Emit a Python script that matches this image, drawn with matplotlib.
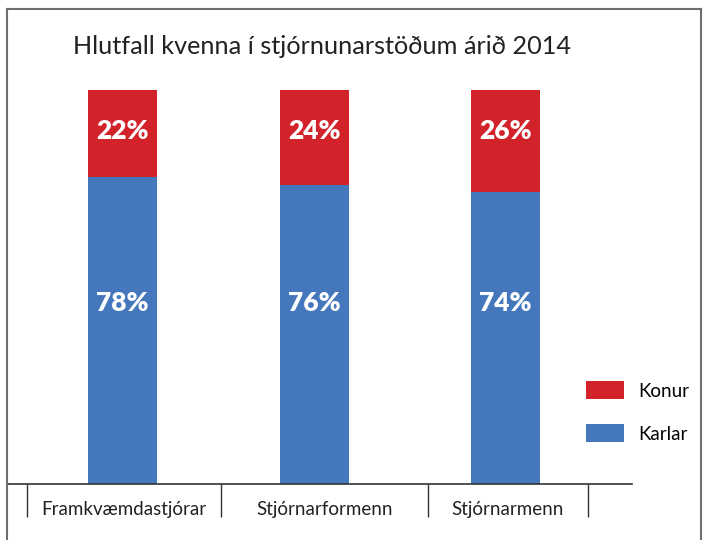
import numpy as np
import matplotlib
matplotlib.use('Agg')
import matplotlib.pyplot as plt
from matplotlib.lines import Line2D

plt.rcParams['font.family'] = ['Lato', 'DejaVu Sans']

categories = ['Framkvæmdastjórar', 'Stjórnarformenn', 'Stjórnarmenn']
karlar = [78, 76, 74]
konur = [22, 24, 26]
title = 'Hlutfall kvenna í stjórnunarstöðum árið 2014'

red = '#d2232b'
blue = '#4577bd'

fig = plt.figure(figsize=(7.11, 5.40), dpi=100)
W, H = 711, 540
ax = fig.add_axes([7 / W, 1 - 484 / H, (632 - 7) / W, (484 - 90) / H])

x = np.arange(len(categories))
ax.bar(x, karlar, width=0.36, color=blue, label='Karlar')
ax.bar(x, konur, bottom=karlar, width=0.36, color=red, label='Konur')

for i in range(len(categories)):
    ax.text(x[i], 46, f'{karlar[i]}%', color='white', fontsize=19,
            fontweight='heavy', ha='center', va='center')
    ax.text(x[i], 89.5, f'{konur[i]}%', color='white', fontsize=19,
            fontweight='heavy', ha='center', va='center')

ax.set_xlim(-0.603, 2.66)
ax.set_ylim(0, 100)

# dividers between category labels
dividers = [-0.5, 0.514, 1.595, 2.43]
ax.set_xticks(dividers, minor=True)
ax.tick_params(axis='x', which='minor', direction='out', length=24,
               width=1, color='#333333')
mids = [(dividers[i] + dividers[i + 1]) / 2 for i in range(3)]
ax.set_xticks(mids)
ax.set_xticklabels(categories, fontsize=13.5, color='#222222')
ax.tick_params(axis='x', which='major', length=0, pad=12)
ax.set_yticks([])
for s in ['top', 'right', 'left']:
    ax.spines[s].set_visible(False)
ax.spines['bottom'].set_color('#333333')
ax.spines['bottom'].set_linewidth(1.2)

handles, labels = ax.get_legend_handles_labels()
ax.legend(handles[::-1], labels[::-1], loc='center left',
          bbox_to_anchor=(586 / W, 1 - 412 / H), bbox_transform=fig.transFigure,
          frameon=False, fontsize=13.5, handlelength=2.0, handleheight=1.1,
          labelspacing=1.3, handletextpad=0.8, borderpad=0, borderaxespad=0)

fig.text(73 / W, 1 - 47 / H, title, fontsize=18.2, color='#222222',
         ha='left', va='center')

# outer frame
fc = '#6e6e6e'
fig.add_artist(Line2D([7 / W, 701 / W], [1 - 9 / H, 1 - 9 / H], color=fc, lw=1.5))
fig.add_artist(Line2D([7 / W, 7 / W], [0, 1 - 9 / H], color=fc, lw=1.5))
fig.add_artist(Line2D([701 / W, 701 / W], [0, 1 - 9 / H], color=fc, lw=1.5))

fig.savefig('out.png', dpi=100)
